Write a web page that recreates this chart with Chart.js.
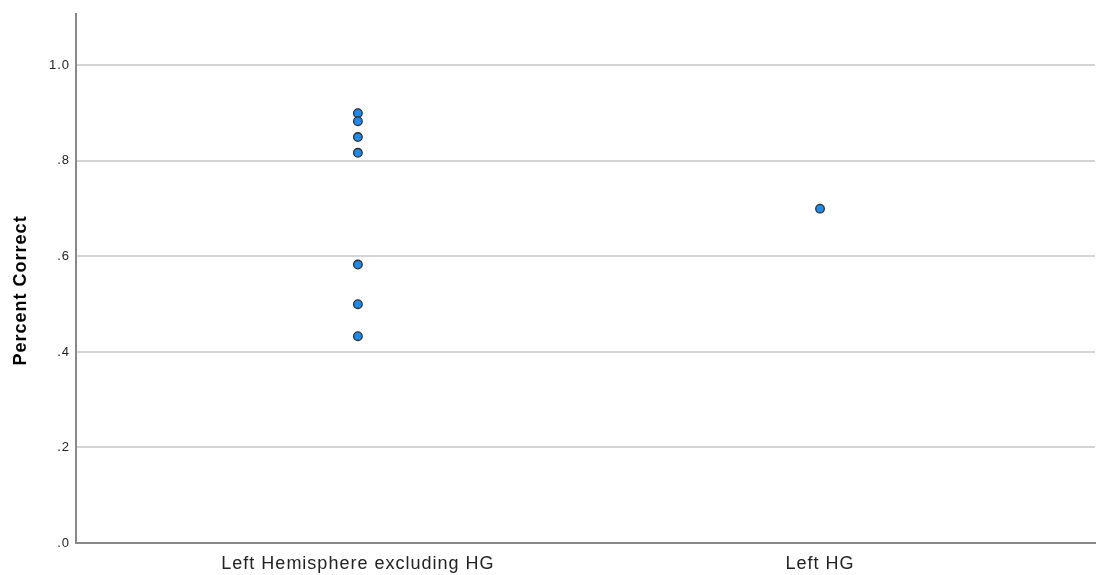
<!DOCTYPE html>
<html lang="en">
<head>
<meta charset="UTF-8">
<title>Percent Correct</title>
<script src="https://cdn.jsdelivr.net/npm/chart.js"></script>
<style>
  html, body { margin: 0; padding: 0; background: #fff; overflow: hidden; }
  #wrap { width: 1096px; height: 575px; }
</style>
</head>
<body>
<div id="wrap"><canvas id="myChart"></canvas></div>
<script>
// categories on the x axis
var categories = ["Left Hemisphere excluding HG", "Left HG"];
// percent correct per group
var leftHemiValues = [0.9, 0.883, 0.85, 0.817, 0.583, 0.5, 0.433];
var leftHGValues = [0.7];
// y tick values
var yTicks = [0, 0.2, 0.4, 0.6, 0.8, 1.0];

var pontos = [];
for (var i = 0; i < leftHemiValues.length; i++) pontos.push({ x: 0, y: leftHemiValues[i] });
for (var j = 0; j < leftHGValues.length; j++) pontos.push({ x: 1, y: leftHGValues[j] });

function fmt(v) {
    var s = v.toFixed(1);
    return s.charAt(0) === "0" ? s.substring(1) : s;
}

// SPSS-like text is spaced a bit wider
var espacamento = {
    id: "espacamento",
    beforeDraw: function (chart) { chart.ctx.letterSpacing = "1px"; },
    afterDraw: function (chart) { chart.ctx.letterSpacing = "0px"; }
};

new Chart(document.getElementById("myChart"), {
    type: "scatter",
    data: {
        datasets: [{
            data: pontos,
            backgroundColor: "#1b8cef",
            borderColor: "#2e2e2e",
            borderWidth: 1.3,
            pointRadius: 4.3,
            pointHoverRadius: 4.3
        }]
    },
    plugins: [espacamento],
    options: {
        responsive: true,
        maintainAspectRatio: false,
        animation: false,
        layout: { autoPadding: false, padding: { top: 12, right: 1, left: 0, bottom: 0 } },
        plugins: { legend: { display: false }, tooltip: { enabled: false } },
        scales: {
            x: {
                type: "linear",
                min: -0.61,
                max: 1.595,
                afterBuildTicks: function (s) { s.ticks = categories.map(function (c, k) { return { value: k }; }); },
                afterFit: function (s) { s.height = 32; },
                ticks: {
                    callback: function (v) { return categories[v]; },
                    color: "#222",
                    font: { family: "Liberation Sans, Arial", size: 18 },
                    padding: 10,
                    maxRotation: 0
                },
                grid: { display: false, drawTicks: false },
                border: { color: "#888", width: 2 }
            },
            y: {
                min: 0,
                max: 1.108,
                afterBuildTicks: function (s) { s.ticks = yTicks.map(function (v) { return { value: v }; }); },
                afterFit: function (s) { s.width = 76; },
                ticks: {
                    callback: function (v) { return fmt(v); },
                    color: "#222",
                    font: { family: "Liberation Sans, Arial", size: 13 },
                    padding: 6
                },
                title: {
                    display: true,
                    text: "Percent Correct    ",
                    color: "#000",
                    font: { family: "Liberation Sans, Arial", size: 18, weight: "bold" },
                    padding: { top: 10, bottom: 4 }
                },
                grid: { color: "#d4d4d4", lineWidth: 2, drawTicks: false },
                border: { color: "#888", width: 2 }
            }
        }
    }
});
</script>
</body>
</html>
